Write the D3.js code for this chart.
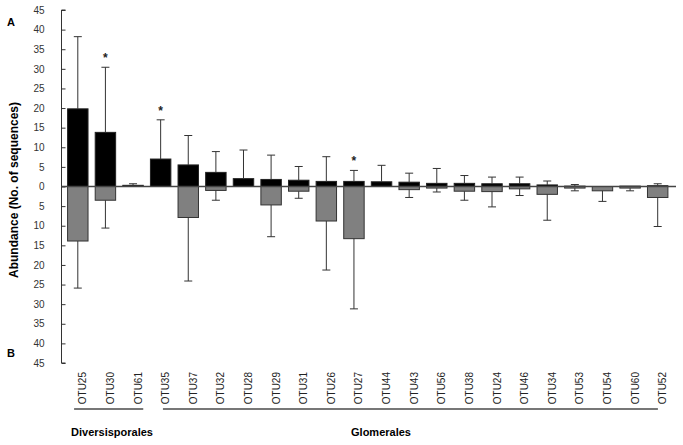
<!DOCTYPE html>
<html>
<head>
<meta charset="utf-8">
<script src="https://cdn.jsdelivr.net/npm/d3@7"></script>
<style>
  body { margin: 0; background: #fff; }
  text { font-family: "Liberation Sans", Arial, sans-serif; }
</style>
</head>
<body>
<div id="chart"></div>
<script>
// OTUs in plot order
var categories = ["OTU25", "OTU30", "OTU61", "OTU35", "OTU37", "OTU32", "OTU28", "OTU29",
    "OTU31", "OTU26", "OTU27", "OTU44", "OTU43", "OTU56", "OTU38", "OTU24", "OTU46",
    "OTU34", "OTU53", "OTU54", "OTU60", "OTU52"];

// panel A (up, black): mean and sd
var meanA = [19.8, 13.8, 0.3, 7.0, 5.5, 3.6, 2.0, 1.8, 1.6, 1.3, 1.3, 1.2, 1.1, 0.8, 0.8, 0.7, 0.7, 0.4, 0.1, 0, 0.1, 0.2];
var sdA   = [18.4, 16.6, 0.4, 10.0, 7.5, 5.3, 7.3, 6.2, 3.5, 6.3, 2.8, 4.2, 2.3, 3.8, 2.0, 1.7, 1.7, 1.0, 0.4, 0, 0, 0.5];

// panel B (down, grey): mean and sd
var meanB = [13.9, 3.5, 0, 0, 7.9, 1.0, 0, 4.7, 1.2, 8.8, 13.3, 0, 0.8, 0.4, 1.2, 1.3, 0.6, 2.0, 0.4, 1.1, 0.4, 2.8];
var sdB   = [12.0, 7.1, 0, 0, 16.2, 2.5, 0, 8.1, 1.8, 12.5, 17.9, 0, 2.0, 1.0, 2.3, 3.9, 1.7, 6.6, 0.7, 2.7, 0.7, 7.4];

var starred = ["OTU30", "OTU35", "OTU27"];

var yTicks = [-45, -40, -35, -30, -25, -20, -15, -10, -5, 0, 5, 10, 15, 20, 25, 30, 35, 40, 45];

var groups = [
    {name: "Diversisporales", first: "OTU25", last: "OTU61"},
    {name: "Glomerales", first: "OTU35", last: "OTU52"}
];

var width = 683, height = 445;

var svg = d3.select("#chart").append("svg")
    .attr("width", width)
    .attr("height", height);

var data = categories.map(function (c, i) {
    return {name: c, a: meanA[i], sa: sdA[i], b: meanB[i], sb: sdB[i]};
});

var x = d3.scaleBand()
    .domain(categories)
    .range([64, 671.5])
    .paddingInner(0.26)
    .paddingOuter(0.13);

var y = d3.scaleLinear()
    .domain([-45, 45])
    .range([363, 10]);

// y axis, ticks pointing inward, labels as absolute values
var yAxis = svg.append("g")
    .attr("transform", "translate(61.5,0)")
    .call(d3.axisRight(y).tickValues(yTicks).tickSize(4).tickFormat(function (d) { return Math.abs(d); }));
yAxis.select(".domain").attr("stroke", "#333").attr("d", "M4," + y(45) + "H0V" + y(-45) + "H4");
yAxis.selectAll(".tick line").attr("stroke", "#333");
yAxis.selectAll(".tick text")
    .attr("x", -17)
    .attr("text-anchor", "end")
    .attr("fill", "#333")
    .style("font-size", "10px");

// black bars (A)
svg.selectAll(".barA")
    .data(data.filter(function (d) { return d.a > 0; }))
    .enter().append("rect")
    .attr("x", function (d) { return x(d.name); })
    .attr("y", function (d) { return y(d.a); })
    .attr("width", x.bandwidth())
    .attr("height", function (d) { return y(0) - y(d.a); })
    .attr("fill", "#000")
    .attr("stroke", "#222")
    .attr("stroke-width", 1);

// grey bars (B)
svg.selectAll(".barB")
    .data(data.filter(function (d) { return d.b > 0; }))
    .enter().append("rect")
    .attr("x", function (d) { return x(d.name); })
    .attr("y", y(0))
    .attr("width", x.bandwidth())
    .attr("height", function (d) { return y(-d.b) - y(0); })
    .attr("fill", "#808080")
    .attr("stroke", "#333")
    .attr("stroke-width", 1);

// error bars
var capW = 4;
var errA = data.filter(function (d) { return d.sa > 0; });
var errB = data.filter(function (d) { return d.sb > 0; });
function cx(d) { return x(d.name) + x.bandwidth() / 2; }

svg.selectAll(".errA")
    .data(errA).enter().append("path")
    .attr("d", function (d) {
        var top = y(d.a + d.sa);
        return "M" + cx(d) + "," + y(d.a) + "V" + top + "M" + (cx(d) - capW) + "," + top + "H" + (cx(d) + capW);
    })
    .attr("stroke", "#333").attr("fill", "none");

svg.selectAll(".errB")
    .data(errB).enter().append("path")
    .attr("d", function (d) {
        var bot = y(-d.b - d.sb);
        return "M" + cx(d) + "," + y(-d.b) + "V" + bot + "M" + (cx(d) - capW) + "," + bot + "H" + (cx(d) + capW);
    })
    .attr("stroke", "#333").attr("fill", "none");

// zero line
svg.append("line")
    .attr("x1", 61.5).attr("x2", 676)
    .attr("y1", y(0)).attr("y2", y(0))
    .attr("stroke", "#444")
    .attr("stroke-width", 1.5);

// significance stars
svg.selectAll(".star")
    .data(data.filter(function (d) { return starred.indexOf(d.name) >= 0; }))
    .enter().append("text")
    .attr("x", cx)
    .attr("y", function (d) { return y(d.a + d.sa) - 5; })
    .attr("text-anchor", "middle")
    .style("font-size", "12px")
    .style("font-weight", "bold")
    .attr("fill", "#222")
    .text("*");

// x labels, rotated
svg.selectAll(".xlab")
    .data(categories).enter().append("text")
    .attr("transform", function (d) {
        return "translate(" + (x(d) + x.bandwidth() / 2 + 8.5) + ",372) rotate(-90)";
    })
    .attr("text-anchor", "end")
    .attr("fill", "#222")
    .style("font-size", "10px")
    .text(function (d) { return d; });

// group brackets and names
var grpOff = {"Diversisporales": [6.5, 0], "Glomerales": [12.5, -10]};
groups.forEach(function (g) {
    var x1 = x(g.first) + grpOff[g.name][0];
    var x2 = x(g.last) + x.bandwidth() + grpOff[g.name][1];
    svg.append("line")
        .attr("x1", x1).attr("x2", x2)
        .attr("y1", 409).attr("y2", 409)
        .attr("stroke", "#777")
        .attr("stroke-width", 2);
});
svg.append("text")
    .attr("x", 112).attr("y", 436)
    .attr("text-anchor", "middle")
    .style("font-size", "11px").style("font-weight", "bold")
    .text("Diversisporales");
svg.append("text")
    .attr("x", 381).attr("y", 436)
    .attr("text-anchor", "middle")
    .style("font-size", "11px").style("font-weight", "bold")
    .text("Glomerales");

// axis title and panel letters
svg.append("text")
    .attr("transform", "translate(18,190) rotate(-90)")
    .attr("text-anchor", "middle")
    .style("font-size", "12px").style("font-weight", "bold")
    .text("Abundance (No. of sequences)");
svg.append("text")
    .attr("x", 11).attr("y", 26)
    .attr("text-anchor", "middle")
    .style("font-size", "11px").style("font-weight", "bold")
    .text("A");
svg.append("text")
    .attr("x", 11).attr("y", 357)
    .attr("text-anchor", "middle")
    .style("font-size", "11px").style("font-weight", "bold")
    .text("B");
</script>
</body>
</html>
